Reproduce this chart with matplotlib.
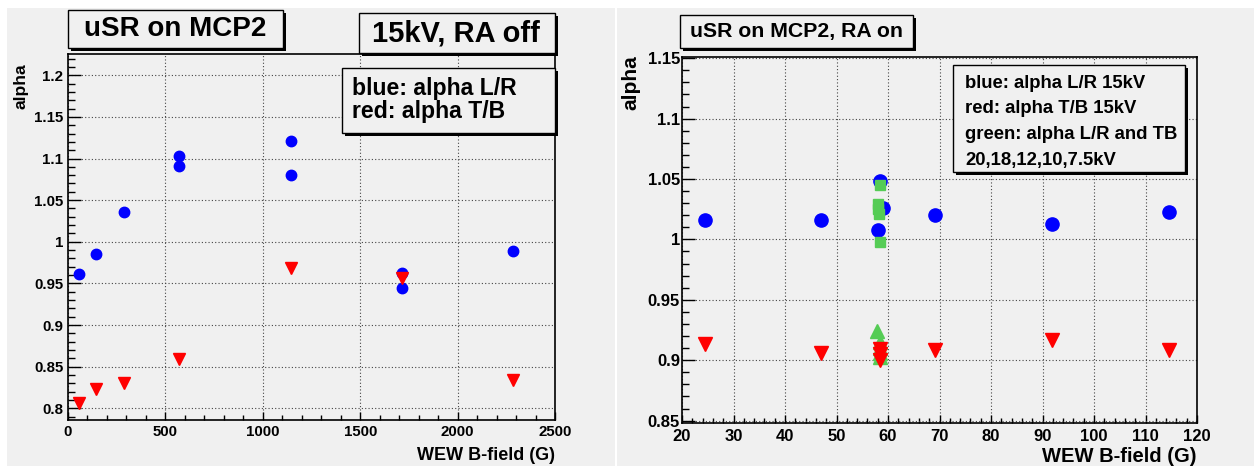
import matplotlib
matplotlib.use('Agg')
import matplotlib.pyplot as plt
from matplotlib.patches import Rectangle
from matplotlib.ticker import MultipleLocator, FuncFormatter

# ---------------- data ----------------
# left panel: 15kV, RA off
left_blue_x = [57, 143, 286, 571, 571, 1143, 1143, 1714, 1714, 2286]
left_blue_y = [0.961, 0.985, 1.036, 1.103, 1.091, 1.121, 1.080, 0.962, 0.944, 0.989]
left_red_x = [57, 143, 286, 571, 1143, 1714, 2286]
left_red_y = [0.806, 0.823, 0.830, 0.859, 0.968, 0.956, 0.834]

# right panel: RA on
right_blue_x = [24.4, 46.9, 58.5, 59.0, 58.1, 69.2, 91.9, 114.6]
right_blue_y = [1.016, 1.016, 1.048, 1.026, 1.008, 1.020, 1.013, 1.023]
right_red_x = [24.4, 46.9, 58.5, 58.5, 58.5, 69.2, 91.9, 114.6]
right_red_y = [0.9135, 0.906, 0.909, 0.905, 0.900, 0.9085, 0.917, 0.9085]
green_sq_x = [58.4, 58.1, 58.0, 58.2, 58.4]
green_sq_y = [1.045, 1.029, 1.025, 1.021, 0.998]
green_tri_x = [57.9, 58.5, 58.5, 58.5, 58.5]
green_tri_y = [0.924, 0.915, 0.910, 0.906, 0.903]

left_title = "uSR on MCP2"
left_tag = "15kV, RA off"
left_legend = ["blue: alpha L/R", "red: alpha T/B"]
right_title = "uSR on MCP2, RA on"
right_legend = ["blue: alpha L/R 15kV", "red: alpha T/B 15kV",
                "green: alpha L/R and TB", "20,18,12,10,7.5kV"]
xlabel = "WEW B-field (G)"
ylabel = "alpha"

# ---------------- style ----------------
plt.rcParams['font.family'] = ['Liberation Sans', 'DejaVu Sans']
plt.rcParams['font.weight'] = 'bold'
BG = '#f0f0f0'
BLUE = '#0000ff'
RED = '#ff0000'
GREEN = '#55cc55'

W, H = 1254, 466
fig = plt.figure(figsize=(W / 100, H / 100), dpi=100, facecolor='white')


def fx(x):
    return x / W


def fy(y):
    return 1 - y / H


def rect(x0, y0, x1, y1, **kw):
    r = Rectangle((fx(x0), fy(y1)), (x1 - x0) / W, (y1 - y0) / H,
                  transform=fig.transFigure, **kw)
    fig.add_artist(r)
    return r


def shadow_box(x0, y0, x1, y1, off=3):
    rect(x0 + off, y0 + off, x1 + off, y1 + off, facecolor='black',
         edgecolor='none', zorder=5)
    rect(x0, y0, x1, y1, facecolor=BG, edgecolor='black', linewidth=1.0,
         zorder=6)


# panel backgrounds
rect(7, 8, 615, 466, facecolor=BG, edgecolor='none', zorder=-10)
rect(617, 8, 1254, 466, facecolor=BG, edgecolor='none', zorder=-10)

fmt = FuncFormatter(lambda v, p: f'{v:g}')


def setup(ax, xlim, ylim, xmaj, xmin, ymaj, ymin, fs, ypad, xpad):
    ax.set_facecolor(BG)
    ax.set_xlim(*xlim)
    ax.set_ylim(*ylim)
    ax.xaxis.set_major_locator(MultipleLocator(xmaj))
    ax.xaxis.set_minor_locator(MultipleLocator(xmin))
    ax.yaxis.set_major_locator(MultipleLocator(ymaj))
    ax.yaxis.set_minor_locator(MultipleLocator(ymin))
    ax.xaxis.set_major_formatter(fmt)
    ax.yaxis.set_major_formatter(fmt)
    ax.grid(True, which='major', linestyle=(0, (1, 2)), color='#444444',
            linewidth=0.8)
    ax.set_axisbelow(True)
    ax.tick_params(which='both', direction='in', top=False, right=False,
                   width=1.0, color='black', labelsize=fs)
    ax.tick_params(axis='y', which='major', length=9, pad=ypad)
    ax.tick_params(axis='y', which='minor', length=5)
    ax.tick_params(axis='x', which='major', length=6, pad=xpad)
    ax.tick_params(axis='x', which='minor', length=3.5)
    for s in ax.spines.values():
        s.set_linewidth(1.2)
        s.set_color('black')
    for lab in ax.get_xticklabels() + ax.get_yticklabels():
        lab.set_fontweight('bold')


# ---------------- left panel ----------------
ax1 = fig.add_axes([fx(68), fy(420), 487 / W, 366 / H])
setup(ax1, (0, 2500), (0.786, 1.2255), 500, 100, 0.05, 0.01, 10.8, 3.5, 3.5)
ax1.plot(left_blue_x, left_blue_y, linestyle='none', marker='o',
         markersize=7.5, color=BLUE, zorder=3)
ax1.plot(left_red_x, left_red_y, linestyle='none', marker='v',
         markersize=8.5, color=RED, zorder=4)
ax1.set_xlabel(xlabel, fontsize=13, fontweight='bold', loc='right')
ax1.xaxis.set_label_coords(1.0, -0.074)
ax1.xaxis.label.set_va('top')
ax1.set_ylabel(ylabel, fontsize=12.5, fontweight='bold', loc='top')
ax1.yaxis.set_label_coords(-0.082, 0.975)
ax1.yaxis.label.set_va('bottom')

shadow_box(68, 10, 283, 48)
fig.text(fx(175.5), fy(29), left_title, fontsize=20, fontweight='bold',
         ha='center', va='center', zorder=7)
shadow_box(359, 13, 555, 53)
fig.text(fx(456), fy(33), left_tag, fontsize=21, fontweight='bold',
         ha='center', va='center', zorder=7)
shadow_box(342, 68, 555, 133)
for i, t in enumerate(left_legend):
    fig.text(fx(352), fy(95 + 23.3 * i), t, fontsize=16.6, fontweight='bold',
             ha='left', va='baseline', zorder=7)

# ---------------- right panel ----------------
ax2 = fig.add_axes([fx(682), fy(423), 515 / W, 366 / H])
setup(ax2, (20, 120), (0.848, 1.151), 10, 2, 0.05, 0.01, 12, 1.5, 4.5)
ax2.plot(right_blue_x, right_blue_y, linestyle='none', marker='o',
         markersize=9.5, color=BLUE, zorder=3)
ax2.plot(green_sq_x, green_sq_y, linestyle='none', marker='s',
         markersize=6.5, color=GREEN, zorder=4)
ax2.plot(green_tri_x, green_tri_y, linestyle='none', marker='^',
         markersize=9.5, color=GREEN, zorder=4)
ax2.plot(right_red_x, right_red_y, linestyle='none', marker='v',
         markersize=9.5, color=RED, zorder=5)
ax2.set_xlabel(xlabel, fontsize=14.5, fontweight='bold', loc='right')
ax2.xaxis.set_label_coords(1.0, -0.066)
ax2.xaxis.label.set_va('top')
ax2.set_ylabel(ylabel, fontsize=15, fontweight='bold', loc='top')
ax2.yaxis.set_label_coords(-0.080, 1.005)
ax2.yaxis.label.set_va('bottom')

shadow_box(680, 15, 913, 48)
fig.text(fx(796.5), fy(31.5), right_title, fontsize=15.3, fontweight='bold',
         ha='center', va='center', zorder=7)
shadow_box(953, 65, 1185, 172)
for i, t in enumerate(right_legend):
    fig.text(fx(965), fy(87.5 + 25.9 * i), t, fontsize=13.3, fontweight='bold',
             ha='left', va='baseline', zorder=7)

fig.savefig('out.png', dpi=100, facecolor='white')
